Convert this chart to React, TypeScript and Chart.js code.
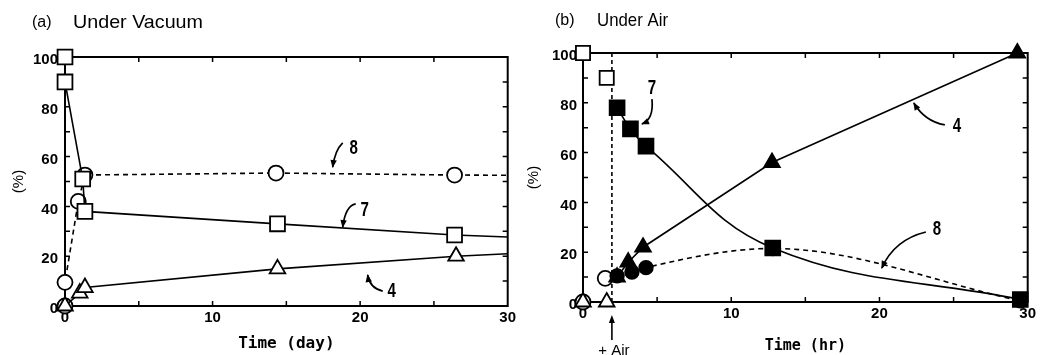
import React, { useEffect, useRef } from 'react';
import { Chart, registerables } from 'chart.js';

Chart.register(...registerables);

// ---------- (a) Under Vacuum : time in days ----------
const vacTime7 = [0, 0, 1.2, 1.35, 14.4, 26.4];
const vacPct7 = [100, 90, 51, 38, 33, 28.5];
const vacTime8 = [0, 0, 0.9, 1.35, 14.3, 26.4];
const vacPct8 = [0, 9.5, 42, 52.6, 53.4, 52.6];
const vacTime4 = [0, 1.0, 1.35, 14.4, 26.5];
const vacPct4 = [0, 5.2, 7.4, 14.9, 20];
// fitted lines run on to the 30-day edge
const vacEdgeTime = 30;
const vacEdge7 = 27.7;
const vacEdge8 = 52.5;
const vacEdge4 = 21;

// ---------- (b) Under Air : time in hours ----------
const airTimeBefore7 = [0, 1.6];
const airPctBefore7 = [100, 90];
const airTime7 = [2.3, 3.2, 4.25, 12.8, 29.5];
const airPct7 = [78, 69.5, 62.6, 21.7, 1];
const airTimeBefore8 = [0, 1.5];
const airPctBefore8 = [0, 9.5];
const airTime8 = [2.3, 3.3, 4.25, 12.8, 29.5];
const airPct8 = [10.5, 12, 13.8, 21.5, 0.5];
const airTimeBefore4 = [0, 1.6];
const airPctBefore4 = [0, 0];
const airTime4 = [2.3, 3.05, 4.05, 12.75, 29.3];
const airPct4 = [10, 16, 22, 56, 100];
const airAddedAt = 1.95;

// ---------- axes ----------
const xTickValues = [0, 10, 20, 30];
const yTickValues = [0, 20, 40, 60, 80, 100];
const xMinorStep = 5;
const yMinorStep = 10;

// ---------- labels / annotations (data coordinates) ----------
const vacNotes = [
  { text: '8', label: [19.57, 63.4], from: [18.82, 65.5], ctrl: [18.3, 62.6], to: [18.14, 55.8] },
  { text: '7', label: [20.31, 38.5], from: [19.7, 41], ctrl: [19.0, 40.2], to: [18.82, 31.7] },
  { text: '4', label: [22.14, 6.0], from: [21.53, 6.0], ctrl: [20.65, 7.2], to: [20.51, 12.45] },
];
const airNotes = [
  { text: '7', label: [4.65, 85.9], from: [4.65, 81.5], ctrl: [4.79, 73.5], to: [3.98, 71.5] },
  { text: '4', label: [25.22, 70.7], from: [24.41, 71.1], ctrl: [23.06, 72.5], to: [22.32, 79.9] },
  { text: '8', label: [23.87, 29.3], from: [23.13, 28.1], ctrl: [21.0, 25.0], to: [20.16, 13.65] },
];

const pts = (xs: number[], ys: number[]) => xs.map((x, i) => ({ x, y: ys[i] }));

const TICK_FONT = { family: 'Liberation Sans', size: 15, weight: 'bold' as const };

function drawArrowNote(ctx: CanvasRenderingContext2D, x: any, y: any, n: any) {
  const f = { x: x.getPixelForValue(n.from[0]), y: y.getPixelForValue(n.from[1]) };
  const c = { x: x.getPixelForValue(n.ctrl[0]), y: y.getPixelForValue(n.ctrl[1]) };
  const t = { x: x.getPixelForValue(n.to[0]), y: y.getPixelForValue(n.to[1]) };
  ctx.save();
  ctx.strokeStyle = '#000';
  ctx.fillStyle = '#000';
  ctx.lineWidth = 1.7;
  ctx.beginPath();
  ctx.moveTo(f.x, f.y);
  ctx.quadraticCurveTo(c.x, c.y, t.x, t.y);
  ctx.stroke();
  const ang = Math.atan2(t.y - c.y, t.x - c.x);
  const L = 7, W = 3.2;
  const cs = Math.cos(ang), sn = Math.sin(ang);
  ctx.beginPath();
  ctx.moveTo(t.x + cs * 1, t.y + sn * 1);
  ctx.lineTo(t.x - L * cs + W * sn, t.y - L * sn - W * cs);
  ctx.lineTo(t.x - L * cs - W * sn, t.y - L * sn + W * cs);
  ctx.closePath();
  ctx.fill();
  const lx = x.getPixelForValue(n.label[0]);
  const ly = y.getPixelForValue(n.label[1]);
  ctx.translate(lx, ly);
  ctx.scale(0.72, 1);
  ctx.font = 'bold 21px "Liberation Sans"';
  ctx.textAlign = 'center';
  ctx.textBaseline = 'middle';
  ctx.fillText(n.text, 0, 0);
  ctx.restore();
}

// draw text, optionally squeezed/stretched to a given width
function fitText(ctx: CanvasRenderingContext2D, text: string, x0: number, yMid: number, width: number | null, font: string) {
  ctx.save();
  ctx.font = font;
  ctx.fillStyle = '#000';
  ctx.textAlign = 'left';
  ctx.textBaseline = 'middle';
  const w = ctx.measureText(text).width;
  ctx.translate(x0, yMid);
  if (width) ctx.scale(width / w, 1);
  ctx.fillText(text, 0, 0);
  ctx.restore();
}

function decorPlugin(p: { titleParts: { text: string; x: number; width: number | null; font: string }[]; titleY: number; notes: any[]; airAt?: number }) {
  return {
    id: 'panelDecor',
    beforeDatasetsDraw(chart: any) {
      const { ctx, chartArea: a, scales } = chart;
      const x = scales.x, y = scales.y;
      ctx.save();
      ctx.strokeStyle = '#000';
      ctx.lineWidth = 2;
      ctx.strokeRect(a.left, a.top, a.right - a.left, a.bottom - a.top);
      ctx.lineWidth = 1.5;
      ctx.beginPath();
      for (let v = x.min + xMinorStep; v < x.max; v += xMinorStep) {
        const px = x.getPixelForValue(v);
        ctx.moveTo(px, a.bottom); ctx.lineTo(px, a.bottom - 5);
        ctx.moveTo(px, a.top); ctx.lineTo(px, a.top + 5);
      }
      for (let v = y.min + yMinorStep; v < y.max; v += yMinorStep) {
        const py = y.getPixelForValue(v);
        ctx.moveTo(a.left, py); ctx.lineTo(a.left + 5, py);
        ctx.moveTo(a.right, py); ctx.lineTo(a.right - 5, py);
      }
      ctx.stroke();
      if (p.airAt !== undefined) {
        const px = x.getPixelForValue(p.airAt);
        ctx.setLineDash([4, 3]);
        ctx.lineWidth = 1.6;
        ctx.beginPath();
        ctx.moveTo(px, a.top);
        ctx.lineTo(px, a.bottom);
        ctx.stroke();
        ctx.setLineDash([]);
      }
      ctx.restore();
    },
    afterDatasetsDraw(chart: any) {
      const { ctx, chartArea: a, scales } = chart;
      const x = scales.x, y = scales.y;
      p.titleParts.forEach((t) => fitText(ctx, t.text, t.x, p.titleY, t.width, t.font));
      p.notes.forEach((n) => drawArrowNote(ctx, x, y, n));
      if (p.airAt !== undefined) {
        const px = x.getPixelForValue(p.airAt);
        ctx.save();
        ctx.strokeStyle = '#000';
        ctx.fillStyle = '#000';
        ctx.lineWidth = 1.6;
        ctx.beginPath();
        ctx.moveTo(px, a.bottom + 38);
        ctx.lineTo(px, a.bottom + 18);
        ctx.stroke();
        ctx.beginPath();
        ctx.moveTo(px, a.bottom + 13);
        ctx.lineTo(px - 3, a.bottom + 21);
        ctx.lineTo(px + 3, a.bottom + 21);
        ctx.closePath();
        ctx.fill();
        ctx.font = '15px "Liberation Sans"';
        ctx.textAlign = 'center';
        ctx.textBaseline = 'top';
        ctx.fillText('+ Air', px + 2, a.bottom + 41);
        ctx.restore();
      }
    },
  };
}

function series(data: any[], style: string, radius: number | number[], filled: boolean, opts: any = {}) {
  return {
    data,
    pointStyle: style,
    pointRadius: radius,
    pointHoverRadius: radius,
    pointBackgroundColor: filled ? '#000' : '#fff',
    pointBorderColor: '#000',
    pointBorderWidth: 1.8,
    borderColor: '#000',
    borderWidth: 1.6,
    backgroundColor: '#000',
    tension: 0,
    clip: false,
    ...opts,
  };
}

function buildOptions(cfg: {
  yWidth: number; xHeight: number; top: number; right: number;
  xTitle: string; xTitleSize: number; xTitlePad: number; yTitlePad: number; yPad: number;
}) {
  return {
    responsive: false,
    animation: false as const,
    events: [],
    layout: { padding: { left: 0, top: cfg.top, right: cfg.right, bottom: 0 } },
    plugins: { legend: { display: false }, tooltip: { enabled: false }, title: { display: false } },
    scales: {
      x: {
        type: 'linear' as const,
        min: 0,
        max: 30,
        afterBuildTicks: (s: any) => { s.ticks = xTickValues.map((v) => ({ value: v })); },
        afterFit: (s: any) => { s.height = cfg.xHeight; },
        grid: { display: false, drawTicks: false, tickLength: 0 },
        border: { display: false },
        ticks: { color: '#000', padding: 3, maxRotation: 0, font: TICK_FONT },
        title: {
          display: true,
          text: cfg.xTitle,
          color: '#000',
          font: { family: 'DejaVu Sans Mono', size: cfg.xTitleSize, weight: 'bold' as const, lineHeight: 1.2 },
          padding: { top: 0, bottom: cfg.xTitlePad },
        },
      },
      y: {
        type: 'linear' as const,
        min: 0,
        max: 100,
        afterBuildTicks: (s: any) => { s.ticks = yTickValues.map((v) => ({ value: v })); },
        afterFit: (s: any) => { s.width = cfg.yWidth; },
        grid: { display: false, drawTicks: false, tickLength: 0 },
        border: { display: false },
        ticks: { color: '#000', padding: cfg.yPad, labelOffset: 3, font: TICK_FONT },
        title: {
          display: true,
          text: '(%)',
          color: '#000',
          font: { family: 'Liberation Sans', size: 15, lineHeight: 1.2 },
          padding: { top: cfg.yTitlePad, bottom: 0 },
        },
      },
    },
  };
}

function vacuumConfig(): any {
  const r7 = vacTime7.map(() => 10.5).concat([0]);
  const r8 = vacTime8.map(() => 7.5).concat([0]);
  const r4 = vacTime4.map(() => 9).concat([0]);
  return {
    type: 'line',
    data: {
      datasets: [
        series(pts(vacTime7, vacPct7).concat([{ x: vacEdgeTime, y: vacEdge7 }]), 'rect', r7, false),
        series(pts(vacTime4, vacPct4).concat([{ x: vacEdgeTime, y: vacEdge4 }]), 'triangle', r4, false),
        series(pts(vacTime8, vacPct8).concat([{ x: vacEdgeTime, y: vacEdge8 }]), 'circle', r8, false, { borderDash: [5, 4] }),
      ],
    },
    options: buildOptions({
      yWidth: 65, xHeight: 49, top: 57, right: 10,
      xTitle: 'Time (day)', xTitleSize: 16, xTitlePad: 2, yTitlePad: 10, yPad: 7,
    }),
    plugins: [decorPlugin({
      titleParts: [
        { text: '(a)', x: 32, width: null, font: '16px "Liberation Sans"' },
        { text: 'Under Vacuum', x: 73, width: 130, font: '19px "Liberation Sans"' },
      ],
      titleY: 23,
      notes: vacNotes,
    })],
  };
}

function airConfig(): any {
  const smooth = { cubicInterpolationMode: 'monotone' };
  return {
    type: 'line',
    data: {
      datasets: [
        series(pts(airTime7, airPct7), 'rect', 10.5, true, { tension: 0.4 }),
        series(pts(airTimeBefore7, airPctBefore7), 'rect', 10, false, { showLine: false }),
        series(pts(airTime4, airPct4), 'triangle', 9, true),
        series(pts(airTime8, airPct8), 'circle', 6.8, true, { ...smooth, borderDash: [5, 4] }),
        series(pts(airTimeBefore4, airPctBefore4), 'triangle', 9, false, { showLine: false }),
        series(pts(airTimeBefore8, airPctBefore8), 'circle', 7.5, false, { showLine: false }),
      ],
    },
    options: buildOptions({
      yWidth: 63, xHeight: 53, top: 53, right: 12,
      xTitle: 'Time (hr)', xTitleSize: 15, xTitlePad: 0, yTitlePad: 5, yPad: 6,
    }),
    plugins: [decorPlugin({
      titleParts: [
        { text: '(b)', x: 35, width: null, font: '16px "Liberation Sans"' },
        { text: 'Under Air', x: 77, width: 71, font: '19px "Liberation Sans"' },
      ],
      titleY: 21,
      notes: airNotes,
      airAt: airAddedAt,
    })],
  };
}

function Panel({ make, left }: { make: () => any; left: number }) {
  const ref = useRef<HTMLCanvasElement | null>(null);
  useEffect(() => {
    if (!ref.current) return;
    const chart = new Chart(ref.current, make());
    return () => chart.destroy();
  }, [make]);
  return (
    <canvas
      ref={ref}
      width={520}
      height={355}
      style={{ position: 'absolute', left, top: 0, width: 520, height: 355, display: 'block' }}
    />
  );
}

export default function App() {
  return (
    <div style={{ position: 'fixed', left: 0, top: 0, width: 1040, height: 355, background: '#fff', overflow: 'hidden' }}>
      <Panel make={vacuumConfig} left={0} />
      <Panel make={airConfig} left={520} />
    </div>
  );
}
